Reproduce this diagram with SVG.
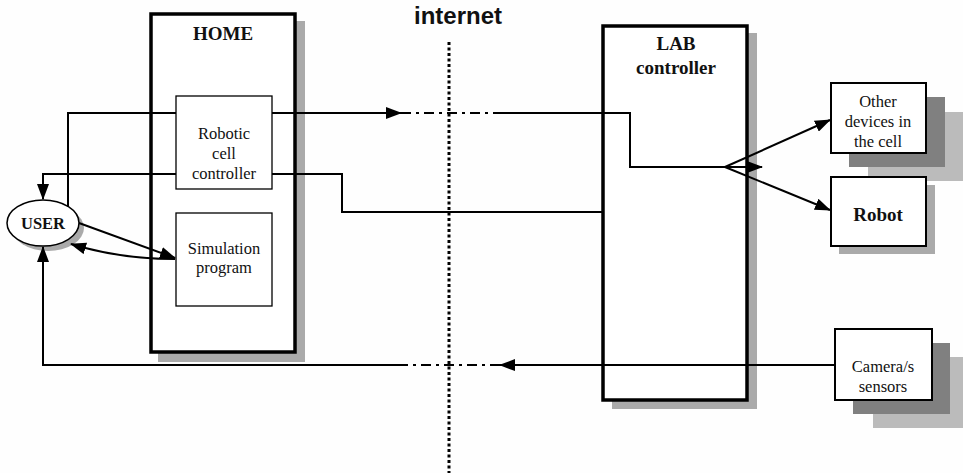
<svg xmlns="http://www.w3.org/2000/svg" width="963" height="473" viewBox="0 0 963 473">
<style>
.bg{fill:#fefefe}
.big{fill:#fff;stroke:#000;stroke-width:3.5}
.inner{fill:#fff;stroke:#000;stroke-width:1.3}
.dev{fill:#fff;stroke:#000;stroke-width:2}
.sh1{fill:#aaa}
.sh2{fill:#808080}
.sh3{fill:#bbb}
.con{fill:none;stroke:#000;stroke-width:2}
.dd{fill:none;stroke:#000;stroke-width:2;stroke-dasharray:10,5,3,5}
.dot{fill:none;stroke:#000;stroke-width:3;stroke-dasharray:3,2.5}
.t{font-family:"Liberation Serif","Times New Roman",serif;font-size:16.5px;fill:#111;text-anchor:middle}
.tb{font-family:"Liberation Serif","Times New Roman",serif;font-size:19px;font-weight:bold;fill:#111;text-anchor:middle}
.ts{font-family:"Liberation Sans",Arial,sans-serif;font-size:24px;font-weight:bold;fill:#111;text-anchor:middle}
</style>
<defs>
<marker id="ah" markerWidth="16" markerHeight="12" refX="15" refY="6" orient="auto" markerUnits="userSpaceOnUse">
<path d="M0,0 L16,6 L0,12 Z" fill="#000"/>
</marker>
</defs>
<rect class="bg" x="0" y="0" width="963" height="473"/>

<text class="ts" x="458" y="24">internet</text>
<line class="dot" x1="449" y1="42" x2="449" y2="473"/>

<g id="home">
<rect class="sh1" x="158" y="21" width="147" height="341"/>
<rect class="big" x="151" y="14" width="144" height="338"/>
<text class="tb" x="223" y="40">HOME</text>
</g>

<g id="lab">
<rect class="sh1" x="612" y="33" width="145" height="376"/>
<rect class="big" x="603" y="26" width="144" height="374"/>
<text class="tb" x="676" y="50">LAB</text>
<text class="tb" x="676" y="74">controller</text>
</g>

<g id="rcc">
<rect class="inner" x="176" y="96" width="96" height="93"/>
<text class="t" x="224" y="139">Robotic</text>
<text class="t" x="224" y="159">cell</text>
<text class="t" x="224" y="179">controller</text>
</g>

<g id="sim">
<rect class="inner" x="176" y="213" width="96" height="93"/>
<text class="t" x="224" y="254">Simulation</text>
<text class="t" x="224" y="273">program</text>
</g>

<g id="user">
<ellipse cx="48" cy="228" rx="36" ry="23" fill="#aaa"/>
<ellipse cx="43" cy="223" rx="36" ry="23" fill="#fff" stroke="#000" stroke-width="1.5"/>
<text class="tb" x="43" y="229" style="font-size:16.5px">USER</text>
</g>

<g id="other">
<rect class="sh3" x="868" y="112" width="95" height="69"/>
<rect class="sh2" x="849" y="97" width="96" height="70"/>
<rect class="dev" x="831" y="83" width="95" height="70"/>
<text class="t" x="878" y="107">Other</text>
<text class="t" x="878" y="127">devices in</text>
<text class="t" x="878" y="147">the cell</text>
</g>

<g id="robot">
<rect class="sh1" x="839" y="185" width="96" height="69"/>
<rect class="dev" x="831" y="177" width="95" height="69"/>
<text class="tb" x="878" y="221">Robot</text>
</g>

<g id="camera">
<rect class="sh3" x="873" y="357" width="90" height="71"/>
<rect class="sh2" x="853" y="343" width="97" height="71"/>
<rect class="dev" x="835" y="329" width="97" height="71"/>
<text class="t" x="883" y="372">Camera/s</text>
<text class="t" x="883" y="392">sensors</text>
</g>

<g id="connectors">
<polyline class="con" points="68,207 68,113 176,113"/>
<line class="con" x1="272" y1="113" x2="401" y2="113" marker-end="url(#ah)"/>
<line class="dd" x1="401" y1="113" x2="497" y2="113"/>
<polyline class="con" points="497,113 630,113 630,167 747,167"/>
<line class="con" x1="746" y1="167" x2="762" y2="167" marker-end="url(#ah)"/>
<line class="con" x1="725" y1="167" x2="830" y2="120" marker-end="url(#ah)"/>
<line class="con" x1="725" y1="167" x2="830" y2="210" marker-end="url(#ah)"/>
<polyline class="con" points="176,174 43,174 43,199" marker-end="url(#ah)"/>
<polyline class="con" points="272,174 342,174 342,212 603,212"/>
<line class="con" x1="835" y1="365" x2="500" y2="365" marker-end="url(#ah)"/>
<line class="dd" x1="500" y1="365" x2="405" y2="365"/>
<polyline class="con" points="405,365 43,365 43,247" marker-end="url(#ah)"/>
<line class="con" x1="79" y1="223" x2="175" y2="258" marker-end="url(#ah)"/>
<path class="con" d="M175,259 Q120,259 71,244" marker-end="url(#ah)"/>
</g>
</svg>
